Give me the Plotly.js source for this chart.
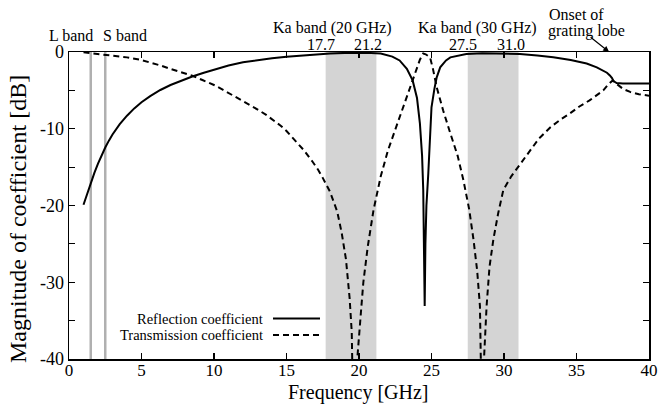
<!DOCTYPE html>
<html>
<head>
<meta charset="utf-8">
<script src="https://cdn.plot.ly/plotly-3.0.1.min.js"></script>
<style>html,body{margin:0;padding:0;background:#fff;}#chart{width:659px;height:409px;}</style>
</head>
<body>
<div id="chart"></div>
<script>
// Reflection coefficient (solid)
const freqR = [1.0,1.25,1.5,1.75,2.0,2.25,2.5,2.75,3.0,3.5,4.0,4.5,5.0,5.6,6.3,7.0,7.5,8.5,9.3,10.0,11.0,12.0,13.0,14.0,15.0,16.0,17.0,18.0,19.0,20.5,21.5,22.3,22.8,23.3,23.7,24.0,24.2,24.35,24.43,24.5,24.53,24.58,24.65,24.78,24.9,25.0,25.2,25.36,25.6,26.0,26.3,27.0,27.4,28.5,30.0,31.1,32.3,33.4,34.6,35.7,36.4,36.85,37.1,37.3,37.45,37.55,37.77,38.2,38.7,39.4,40.0];
const reflDb = [-19.9,-18.45,-17.05,-15.75,-14.55,-13.45,-12.45,-11.55,-10.75,-9.4,-8.3,-7.35,-6.55,-5.75,-4.95,-4.3,-3.9,-3.2,-2.7,-2.3,-1.75,-1.35,-1.05,-0.82,-0.62,-0.45,-0.32,-0.2,-0.12,-0.1,-0.2,-0.6,-1.1,-2.2,-3.7,-6.0,-9.3,-13.5,-18,-27,-33.1,-25,-20,-15.8,-10.5,-7.2,-4.8,-3.3,-2.0,-1.1,-0.7,-0.35,-0.25,-0.15,-0.18,-0.25,-0.45,-0.67,-1.05,-1.5,-2.0,-2.4,-2.7,-3.05,-3.4,-3.8,-4.05,-4.1,-4.1,-4.1,-4.1];

// Transmission coefficient (dashed)
const freqT = [1.0,1.5,2.0,3.0,4.0,5.0,5.6,6.3,7.0,7.5,8.0,8.5,9.2,10.0,10.6,11.3,11.9,12.5,13.1,13.6,14.1,14.6,15.0,15.45,15.8,16.2,16.8,17.2,17.5,18.0,18.5,18.8,19.1,19.35,19.5,19.67,19.88,20.0,20.15,20.3,20.6,21.0,21.5,22.0,22.6,23.0,23.4,23.74,24.0,24.2,24.43,24.6,24.9,25.1,25.36,25.8,26.3,26.8,27.2,27.6,27.9,28.15,28.34,28.45,28.53,28.62,28.8,29.0,29.26,29.6,29.95,30.5,31.0,31.7,32.4,33.2,33.9,34.55,35.2,35.9,36.4,36.85,37.2,37.5,37.8,38.2,38.7,39.3,40.0];
const transDb = [-0.05,-0.15,-0.25,-0.45,-0.7,-1.05,-1.35,-1.75,-2.2,-2.5,-2.8,-3.1,-3.65,-4.3,-4.9,-5.65,-6.3,-6.9,-7.6,-8.2,-8.9,-9.6,-10.3,-11.2,-11.9,-12.8,-14.3,-15.4,-16.4,-18.2,-20.8,-23.5,-27,-32,-36.5,-55,-40,-37.5,-33.5,-30,-25.4,-20.6,-16.2,-12.8,-9.6,-7.4,-5.2,-3.3,-2.0,-1.0,-0.2,-0.3,-0.7,-2.2,-4.6,-7.6,-10.6,-13.5,-16.7,-20.5,-24.5,-28.5,-33.1,-40,-55,-40,-33.1,-28,-24.5,-21,-18,-16.2,-14.9,-13.0,-11.3,-9.8,-8.8,-8.0,-7.1,-6.3,-5.6,-5.0,-4.2,-3.7,-4.2,-4.8,-5.2,-5.5,-5.7];

// Band markers
const bandLines = [1.5, 2.5];               // L band, S band
const kaBands = [[17.7, 21.2], [27.5, 31.0]]; // Ka band (20 GHz), Ka band (30 GHz)

// Tick labels
const xTickVals = [0,5,10,15,20,25,30,35,40];
const yTickVals = [0,-5,-10,-15,-20,-25,-30,-35,-40];
const yTickText = ['0','','-10','','-20','','-30','','-40'];

const FONT = 'Liberation Serif';

const traces = [
  {x: freqR, y: reflDb, mode: 'lines', name: 'Reflection coefficient',
   line: {color: '#000', width: 2}},
  {x: freqT, y: transDb, mode: 'lines', name: 'Transmission coefficient',
   line: {color: '#000', width: 2, dash: '6px,4px'}}
];

const shapes = [];
kaBands.forEach(b => shapes.push({type: 'rect', xref: 'x', yref: 'paper', x0: b[0], x1: b[1], y0: 0, y1: 1,
  fillcolor: '#d4d4d4', line: {width: 0}, layer: 'below'}));
bandLines.forEach(v => shapes.push({type: 'line', xref: 'x', yref: 'paper', x0: v, x1: v, y0: 0, y1: 1,
  line: {color: '#b0b0b0', width: 2.5}, layer: 'below'}));

function txt(text, x, y, opts) {
  return Object.assign({text: text, x: x, y: y, xref: 'paper', yref: 'paper', showarrow: false,
    font: {family: FONT, size: 16, color: '#000'}, xanchor: 'center', yanchor: 'middle'}, opts || {});
}
const px = p => (p - 69) / 580;
const py = p => (359 - p) / 307;

// legend samples
shapes.push({type: 'line', xref: 'paper', yref: 'paper', x0: px(273), x1: px(320), y0: py(318.5), y1: py(318.5), line: {color: '#000', width: 2}});
shapes.push({type: 'line', xref: 'paper', yref: 'paper', x0: px(273), x1: px(320), y0: py(335), y1: py(335), line: {color: '#000', width: 2, dash: '6px,4px'}});

const annotations = [
  txt('L band', px(71), py(36)),
  txt('S band', px(125), py(36)),
  txt('Ka band (20 GHz)', px(332), py(28)),
  txt('Ka band (30 GHz)', px(477), py(28)),
  txt('17.7', px(321), py(44)),
  txt('21.2', px(368), py(44)),
  txt('27.5', px(463), py(44)),
  txt('31.0', px(511), py(44)),
  txt('Onset of', px(547), py(15), {xanchor: 'left'}),
  txt('grating lobe', px(546), py(31), {xanchor: 'left'}),
  {x: 37.25, y: 0, xref: 'x', yref: 'y', text: '', showarrow: true, arrowhead: 2, arrowsize: 1, arrowwidth: 1.2,
   arrowcolor: '#000', ax: -20, ay: -16, standoff: 0},
  txt('Reflection coefficient', px(265), py(318.5), {xanchor: 'right', font: {family: FONT, size: 14.5, color: '#000'}}),
  txt('Transmission coefficient', px(265), py(335), {xanchor: 'right', font: {family: FONT, size: 14.5, color: '#000'}}),
  txt('Magnitude of coefficient [dB]', px(18), py(219), {textangle: -90, font: {family: FONT, size: 24, color: '#000'}}),
  txt('Frequency [GHz]', px(358), py(392), {font: {family: FONT, size: 20, color: '#000'}})
];

const layout = {
  width: 659, height: 409,
  margin: {l: 69, r: 10, t: 52, b: 50},
  paper_bgcolor: '#fff', plot_bgcolor: '#fff',
  showlegend: false,
  font: {family: FONT, color: '#000'},
  xaxis: {range: [0, 40], tickvals: xTickVals, ticks: 'inside', ticklen: 6, tickwidth: 1.2, tickcolor: '#000',
    showline: true, linecolor: '#000', linewidth: 1.5, mirror: 'ticks', showgrid: false, zeroline: false,
    ticklabelstandoff: -5,
    tickfont: {family: FONT, size: 17, color: '#000'}},
  yaxis: {range: [-40, 0], tickvals: yTickVals, ticktext: yTickText, ticks: 'inside', ticklen: 6, tickwidth: 1.2, tickcolor: '#000',
    showline: true, linecolor: '#000', linewidth: 1.5, mirror: 'ticks', showgrid: false, zeroline: false,
    tickfont: {family: FONT, size: 18, color: '#000'}},
  shapes: shapes,
  annotations: annotations
};

Plotly.newPlot('chart', traces, layout, {displayModeBar: false, staticPlot: true});
</script>
</body>
</html>
